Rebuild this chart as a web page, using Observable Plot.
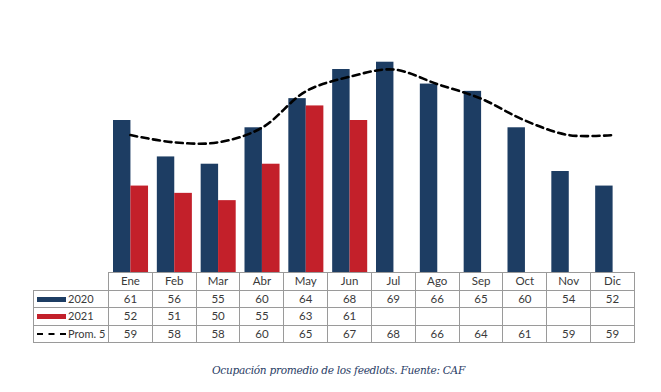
<!DOCTYPE html>
<html>
<head>
<meta charset="utf-8">
<script src="https://cdn.jsdelivr.net/npm/d3@7"></script>
<script src="https://cdn.jsdelivr.net/npm/@observablehq/plot@0.6"></script>
<style>
  html, body { margin: 0; padding: 0; background: #fff; }
  #wrap { position: relative; width: 661px; height: 392px; background: #fff; }
  #chart { position: absolute; left: 0; top: 0; }
  table.tbl { position: absolute; left: 33px; top: 272px; border-collapse: collapse; table-layout: fixed;
    font-family: Lato, "Open Sans", sans-serif; font-size: 11.5px; color: #3a3a3a; }
  table.tbl td { border: 1px solid #9a9a9a; height: 16.6px; padding: 0; text-align: center; line-height: 14px; white-space: nowrap; overflow: hidden; }
  table.tbl td.blank { border: none; }
  table.tbl td.lab { text-align: left; padding-left: 3px; font-size: 11px; }
  .sw { display: inline-block; width: 29px; height: 5px; vertical-align: middle; margin-right: 2px; position: relative; top: -1px; }
  .dash { display: inline-block; width: 29px; height: 0; border-top: 2.5px dashed #000; vertical-align: middle; margin-right: 2px; position: relative; top: -1px; }
  #caption { position: absolute; top: 364px; left: 8px; width: 661px; text-align: center;
    font-family: "DejaVu Serif", serif; font-style: italic; font-size: 10.6px; letter-spacing: -0.3px; color: #2a3d66; }
</style>
</head>
<body>
<div id="wrap">
  <div id="chart"></div>
  <div id="table"></div>
  <div id="caption">Ocupación promedio de los feedlots. Fuente: CAF</div>
</div>
<script>
const months = ["Ene","Feb","Mar","Abr","May","Jun","Jul","Ago","Sep","Oct","Nov","Dic"];
const v2020 = [61,56,55,60,64,68,69,66,65,60,54,52];
const v2021 = [52,51,50,55,63,61];
const prom5 = [59,58,58,60,65,67,68,66,64,61,59,59];
const seriesLabels = ["2020","2021","Prom. 5"];

const c2020 = "#1d3d63";
const c2021 = "#c3202a";

const d2020 = months.map((m, i) => ({month: m, value: v2020[i]}));
const d2021 = v2021.map((v, i) => ({month: months[i], value: v}));
const dProm = months.map((m, i) => ({month: m, value: prom5[i]}));

const chart = Plot.plot({
  width: 661,
  height: 274,
  marginLeft: 108,
  marginRight: 27,
  marginTop: 18,
  marginBottom: 1,
  x: {type: "band", domain: months, padding: 0, round: false, axis: null},
  y: {domain: [40, 75], axis: null},
  marks: [
    Plot.barY(d2020, {x: "month", y1: 40, y2: "value", fill: c2020, insetLeft: 5, insetRight: 21.4}),
    Plot.barY(d2021, {x: "month", y1: 40, y2: "value", fill: c2021, insetLeft: 22.4, insetRight: 3.8}),
    Plot.line(dProm, {x: "month", y: "value", curve: "catmull-rom", stroke: "#000", strokeWidth: 2.6, strokeDasharray: "7,4.5"})
  ]
});
document.getElementById("chart").appendChild(chart);

// data table below the chart
const labW = 75, colW = 526 / months.length;
let html = '<table class="tbl"><colgroup><col style="width:' + labW + 'px">';
months.forEach(() => html += '<col style="width:' + colW + 'px">');
html += '</colgroup>';
html += '<tr><td class="blank"></td>' + months.map(m => '<td>' + m + '</td>').join('') + '</tr>';
const rows = [
  {label: seriesLabels[0], sw: '<span class="sw" style="background:' + c2020 + '"></span>', vals: v2020},
  {label: seriesLabels[1], sw: '<span class="sw" style="background:' + c2021 + '"></span>', vals: v2021},
  {label: seriesLabels[2], sw: '<span class="dash"></span>', vals: prom5}
];
rows.forEach(r => {
  html += '<tr><td class="lab">' + r.sw + r.label + '</td>' +
    months.map((m, i) => '<td>' + (r.vals[i] !== undefined ? r.vals[i] : '') + '</td>').join('') + '</tr>';
});
html += '</table>';
document.getElementById("table").innerHTML = html;
</script>
</body>
</html>
